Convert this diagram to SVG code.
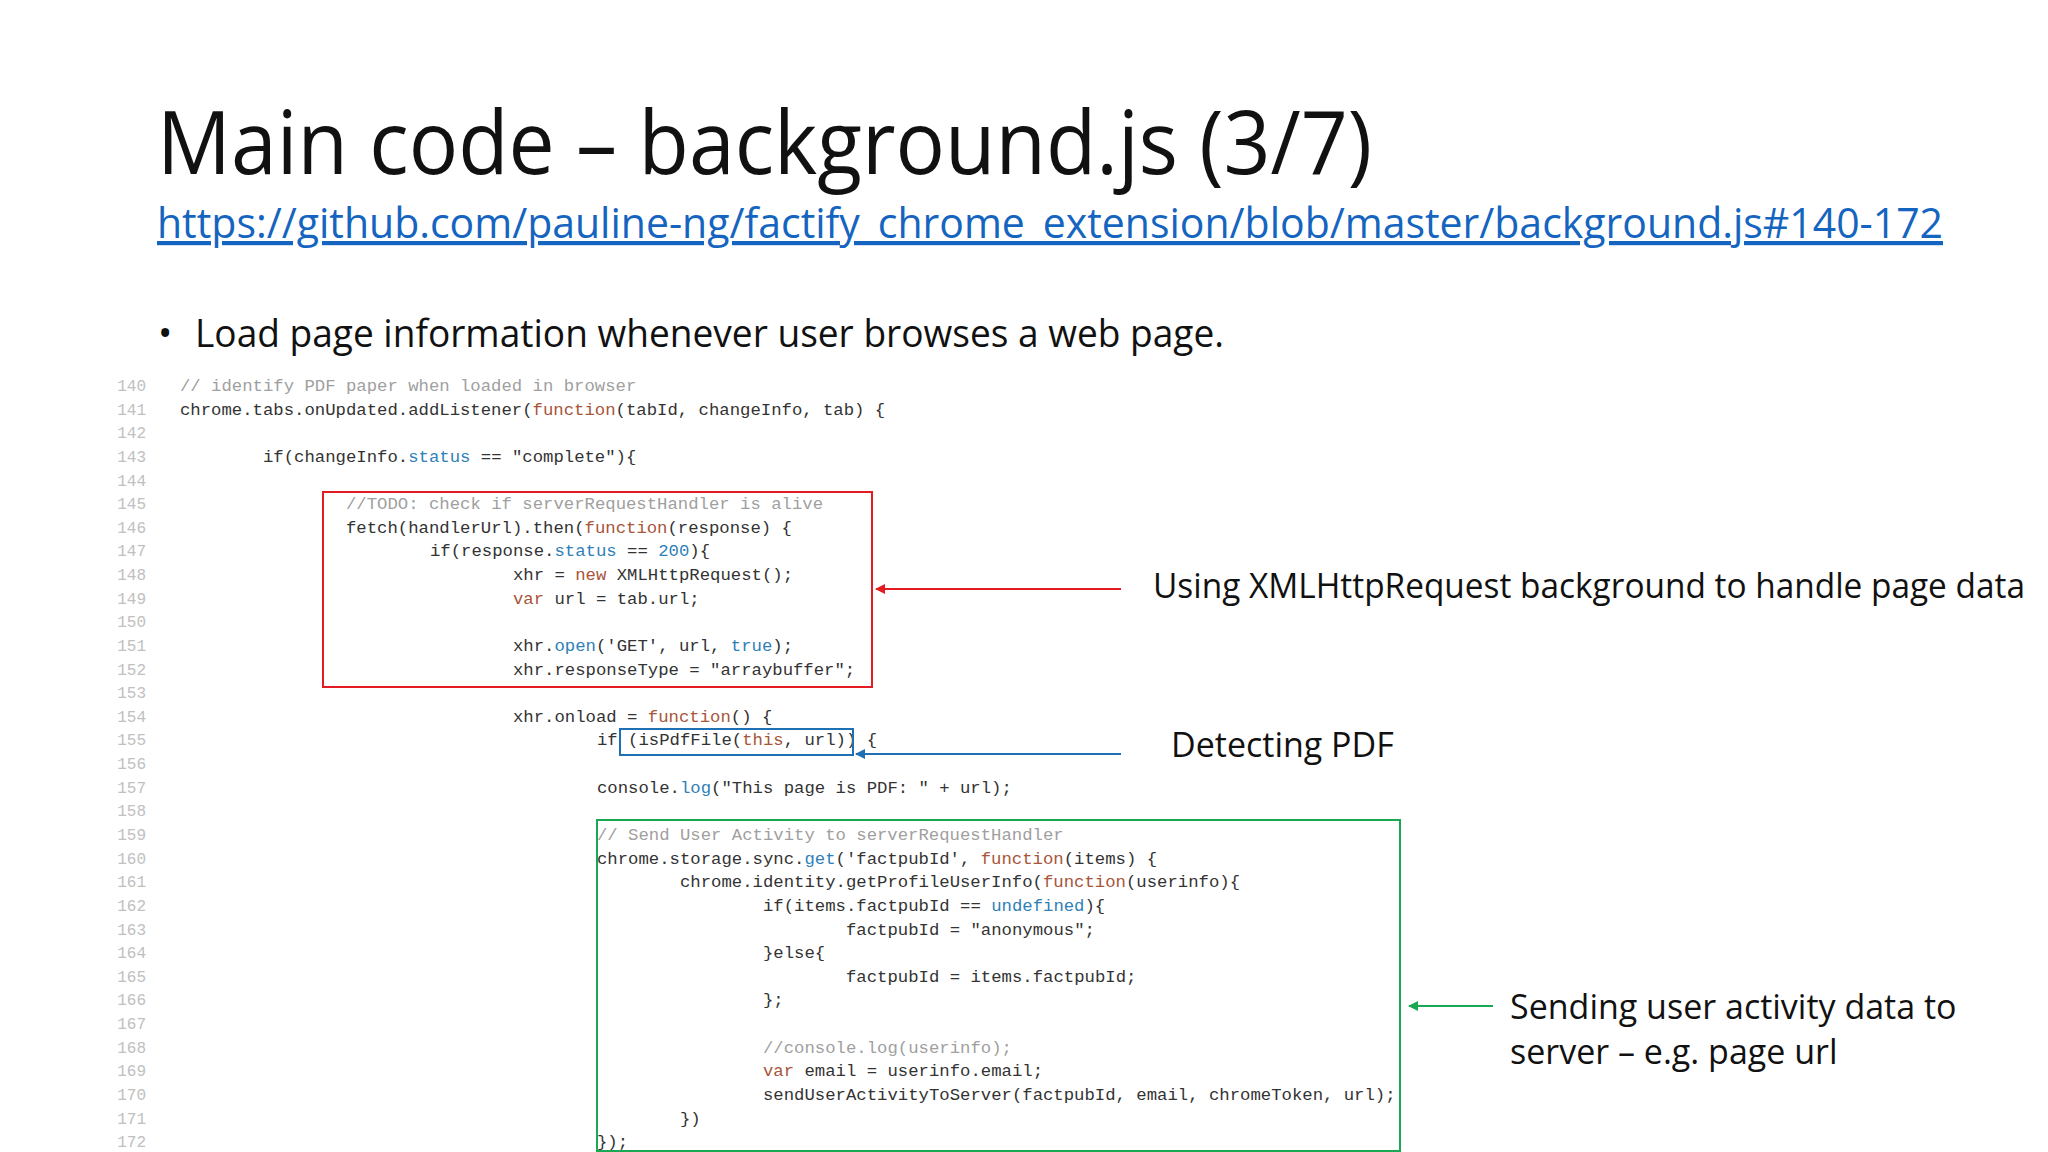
<svg xmlns="http://www.w3.org/2000/svg" width="2048" height="1152" viewBox="0 0 2048 1152">
<style>
.ln{font-family:"Liberation Mono",monospace;font-size:16px;fill:#c0c0c0;text-anchor:end}
.c{font-family:"Liberation Mono",monospace;font-size:17.3px;fill:#333}
.cm{fill:#a0a0a0}
.k{fill:#a8553a}
.b{fill:#2f7fb8}
.lab{font-family:"Open Sans","Liberation Sans",sans-serif;font-size:34px;fill:#111}
</style>
<defs>
<marker id="mr" viewBox="0 0 10 10" refX="9" refY="5" markerWidth="5" markerHeight="5" orient="auto-start-reverse"><path d="M0,0L10,5L0,10z" fill="#e31c23"/></marker>
<marker id="mb" viewBox="0 0 10 10" refX="9" refY="5" markerWidth="5" markerHeight="5" orient="auto-start-reverse"><path d="M0,0L10,5L0,10z" fill="#1f6fb5"/></marker>
<marker id="mg" viewBox="0 0 10 10" refX="9" refY="5" markerWidth="5" markerHeight="5" orient="auto-start-reverse"><path d="M0,0L10,5L0,10z" fill="#1aa853"/></marker>
</defs>
<rect width="2048" height="1152" fill="#fff"/>
<g id="title">
<text x="157" y="174" font-family="Open Sans,Liberation Sans,sans-serif" font-size="88" fill="#111" textLength="1215" lengthAdjust="spacingAndGlyphs">Main code – background.js (3/7)</text>
<text x="157" y="238" font-family="Open Sans,Liberation Sans,sans-serif" font-size="42" fill="#1565c0" text-decoration="underline" textLength="1786" lengthAdjust="spacingAndGlyphs">https://github.com/pauline-ng/factify_chrome_extension/blob/master/background.js#140-172</text>
<text x="158" y="347" font-family="Open Sans,Liberation Sans,sans-serif" font-size="38" fill="#111">•</text>
<text x="195" y="347" font-family="Open Sans,Liberation Sans,sans-serif" font-size="38" fill="#111" textLength="1029" lengthAdjust="spacingAndGlyphs">Load page information whenever user browses a web page.</text>
</g>
<g id="linenumbers">
<text class="ln" x="146" y="391">140</text><text class="ln" x="146" y="415">141</text><text class="ln" x="146" y="438">142</text><text class="ln" x="146" y="462">143</text><text class="ln" x="146" y="486">144</text><text class="ln" x="146" y="509">145</text><text class="ln" x="146" y="533">146</text><text class="ln" x="146" y="556">147</text><text class="ln" x="146" y="580">148</text><text class="ln" x="146" y="604">149</text><text class="ln" x="146" y="627">150</text><text class="ln" x="146" y="651">151</text><text class="ln" x="146" y="675">152</text><text class="ln" x="146" y="698">153</text><text class="ln" x="146" y="722">154</text><text class="ln" x="146" y="745">155</text><text class="ln" x="146" y="769">156</text><text class="ln" x="146" y="793">157</text><text class="ln" x="146" y="816">158</text><text class="ln" x="146" y="840">159</text><text class="ln" x="146" y="864">160</text><text class="ln" x="146" y="887">161</text><text class="ln" x="146" y="911">162</text><text class="ln" x="146" y="935">163</text><text class="ln" x="146" y="958">164</text><text class="ln" x="146" y="982">165</text><text class="ln" x="146" y="1005">166</text><text class="ln" x="146" y="1029">167</text><text class="ln" x="146" y="1053">168</text><text class="ln" x="146" y="1076">169</text><text class="ln" x="146" y="1100">170</text><text class="ln" x="146" y="1124">171</text><text class="ln" x="146" y="1147">172</text>
</g>
<g id="code">
<text class="c cm" x="180" y="391">// identify PDF paper when loaded in browser</text>
<text class="c" x="180" y="415">chrome.tabs.onUpdated.addListener(<tspan class="k">function</tspan>(tabId, changeInfo, tab) {</text>
<text class="c" x="263" y="462">if(changeInfo.<tspan class="b">status</tspan> == "complete"){</text>
<text class="c cm" x="346" y="509">//TODO: check if serverRequestHandler is alive</text>
<text class="c" x="346" y="533">fetch(handlerUrl).then(<tspan class="k">function</tspan>(response) {</text>
<text class="c" x="430" y="556">if(response.<tspan class="b">status</tspan> == <tspan class="b">200</tspan>){</text>
<text class="c" x="513" y="580">xhr = <tspan class="k">new</tspan> XMLHttpRequest();</text>
<text class="c" x="513" y="604"><tspan class="k">var</tspan> url = tab.url;</text>
<text class="c" x="513" y="651">xhr.<tspan class="b">open</tspan>('GET', url, <tspan class="b">true</tspan>);</text>
<text class="c" x="513" y="675">xhr.responseType = "arraybuffer";</text>
<text class="c" x="513" y="722">xhr.onload = <tspan class="k">function</tspan>() {</text>
<text class="c" x="597" y="745">if (isPdfFile(<tspan class="k">this</tspan>, url)) {</text>
<text class="c" x="597" y="793">console.<tspan class="b">log</tspan>("This page is PDF: " + url);</text>
<text class="c cm" x="597" y="840">// Send User Activity to serverRequestHandler</text>
<text class="c" x="597" y="864">chrome.storage.sync.<tspan class="b">get</tspan>('factpubId', <tspan class="k">function</tspan>(items) {</text>
<text class="c" x="680" y="887">chrome.identity.getProfileUserInfo(<tspan class="k">function</tspan>(userinfo){</text>
<text class="c" x="763" y="911">if(items.factpubId == <tspan class="b">undefined</tspan>){</text>
<text class="c" x="846" y="935">factpubId = "anonymous";</text>
<text class="c" x="763" y="958">}else{</text>
<text class="c" x="846" y="982">factpubId = items.factpubId;</text>
<text class="c" x="763" y="1005">};</text>
<text class="c cm" x="763" y="1053">//console.log(userinfo);</text>
<text class="c" x="763" y="1076"><tspan class="k">var</tspan> email = userinfo.email;</text>
<text class="c" x="763" y="1100">sendUserActivityToServer(factpubId, email, chromeToken, url);</text>
<text class="c" x="680" y="1124">})</text>
<text class="c" x="597" y="1147">});</text>
</g>
<g id="boxes" fill="none">
<rect id="redbox" x="323" y="492" width="549" height="195" stroke="#e31c23" stroke-width="2"/>
<rect id="bluebox" x="620" y="729" width="233" height="26" stroke="#1f6fb5" stroke-width="2"/>
<rect id="greenbox" x="597" y="820" width="803" height="331" stroke="#1aa853" stroke-width="2"/>
</g>
<g id="connectors" stroke-width="2">
<line x1="1121" y1="589" x2="876" y2="589" stroke="#e31c23" marker-end="url(#mr)"/>
<line x1="1121" y1="754" x2="856" y2="754" stroke="#1f6fb5" marker-end="url(#mb)"/>
<line x1="1493" y1="1006" x2="1409" y2="1006" stroke="#1aa853" marker-end="url(#mg)"/>
</g>
<g id="labels">
<text class="lab" x="1153" y="598" textLength="872" lengthAdjust="spacingAndGlyphs">Using XMLHttpRequest background to handle page data</text>
<text class="lab" x="1171" y="757">Detecting PDF</text>
<text class="lab" x="1510" y="1019">Sending user activity data to</text>
<text class="lab" x="1510" y="1064">server – e.g. page url</text>
</g>
</svg>
